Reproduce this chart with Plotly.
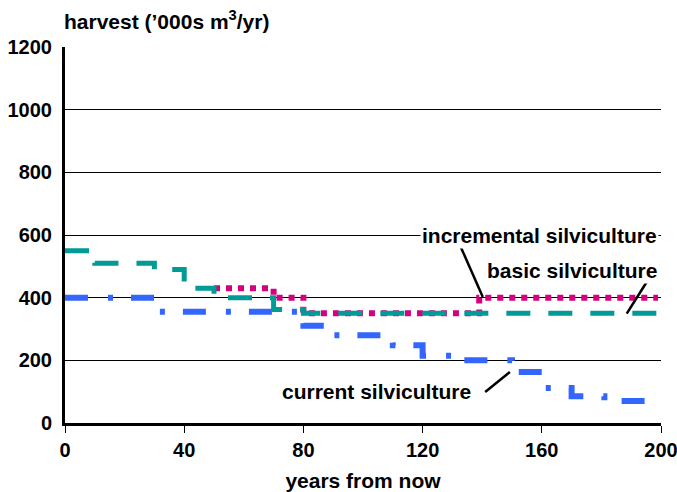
import plotly.graph_objects as go

# ---- data ----
years_basic = [0, 10, 30, 40, 50, 70, 80, 199]
harvest_basic = [550, 510, 490, 430, 400, 362, 350, 350]

years_incremental = [50, 70, 80, 139, 199]
harvest_incremental = [430, 400, 350, 400, 400]

years_current = [0, 30, 80, 90, 110, 120, 130, 150, 160, 170, 181, 196]
harvest_current = [400, 355, 310, 280, 248, 215, 200, 163, 112, 85, 70, 70]

x_ticks = [0, 40, 80, 120, 160, 200]
y_ticks = [0, 200, 400, 600, 800, 1000, 1200]

FONT = "Liberation Sans, Arial, sans-serif"
FS = 20
LFS = 21

fig = go.Figure()

fig.add_trace(go.Scatter(
    x=years_incremental, y=harvest_incremental, mode="lines",
    line=dict(color="#D6007F", width=6, dash="6px,6px", shape="hv"),
    name="incremental silviculture", showlegend=False))

fig.add_trace(go.Scatter(
    x=years_basic, y=harvest_basic, mode="lines",
    line=dict(color="#009B96", width=5, dash="24px,18px", shape="hv"),
    name="basic silviculture", showlegend=False))

fig.add_trace(go.Scatter(
    x=years_current, y=harvest_current, mode="lines",
    line=dict(color="#3366FF", width=6, dash="23px,20px,5px,18px", shape="hv"),
    name="current silviculture", showlegend=False))

# label leader lines
for (x0, y0, x1, y1) in [(132.8, 562, 140.2, 402),
                         (195.2, 450, 188.5, 349),
                         (141.0, 99, 149.3, 163)]:
    fig.add_shape(type="line", xref="x", yref="y", x0=x0, y0=y0, x1=x1, y1=y1,
                  line=dict(color="black", width=2.5))

lab_font = dict(family=FONT, size=LFS, color="black", weight="bold")
fig.add_annotation(x=199.2, y=600, xref="x", yref="y", text="incremental silviculture",
                   showarrow=False, xanchor="right", yanchor="middle",
                   bgcolor="white", font=lab_font)
fig.add_annotation(x=199.2, y=487, xref="x", yref="y", text="basic silviculture",
                   showarrow=False, xanchor="right", yanchor="middle",
                   bgcolor="white", font=lab_font)
fig.add_annotation(x=137.0, y=100, xref="x", yref="y", text="current silviculture",
                   showarrow=False, xanchor="right", yanchor="middle",
                   bgcolor="white", font=lab_font)

fig.add_annotation(x=0, y=1.0, xref="paper", yref="paper", yshift=27, xshift=-3,
                   text="harvest (’000s m<sup>3</sup>/yr)", showarrow=False,
                   xanchor="left", yanchor="middle", font=lab_font)

fig.update_layout(
    width=677, height=492,
    margin=dict(l=65, r=16, t=47, b=69, autoexpand=False),
    paper_bgcolor="white", plot_bgcolor="white",
    font=dict(family=FONT, size=FS, color="black"),
)

fig.update_xaxes(
    range=[0, 200], tickvals=x_ticks, ticktext=[str(v) for v in x_ticks],
    showgrid=False, zeroline=False, automargin=False,
    showline=True, linecolor="black", linewidth=3,
    ticks="outside", ticklen=7, tickwidth=1, tickcolor="black",
    ticklabeloverflow="allow",
    tickfont=dict(family=FONT, size=FS, color="black", weight="bold"),
    title=dict(text="years from now", standoff=14,
               font=dict(family=FONT, size=LFS, color="black", weight="bold")),
)

fig.update_yaxes(
    range=[0, 1200], tickvals=y_ticks, ticktext=[str(v) for v in y_ticks],
    showgrid=True, gridcolor="black", gridwidth=1.2, automargin=False,
    zeroline=False, showline=True, linecolor="black", linewidth=3,
    ticks="", ticklabelstandoff=6,
    tickfont=dict(family=FONT, size=FS, color="black", weight="bold"),
)

fig.write_html("out.html",
               config={"displayModeBar": False},
               post_script="document.body.style.margin='0';"
                           "document.body.style.overflow='hidden';")
